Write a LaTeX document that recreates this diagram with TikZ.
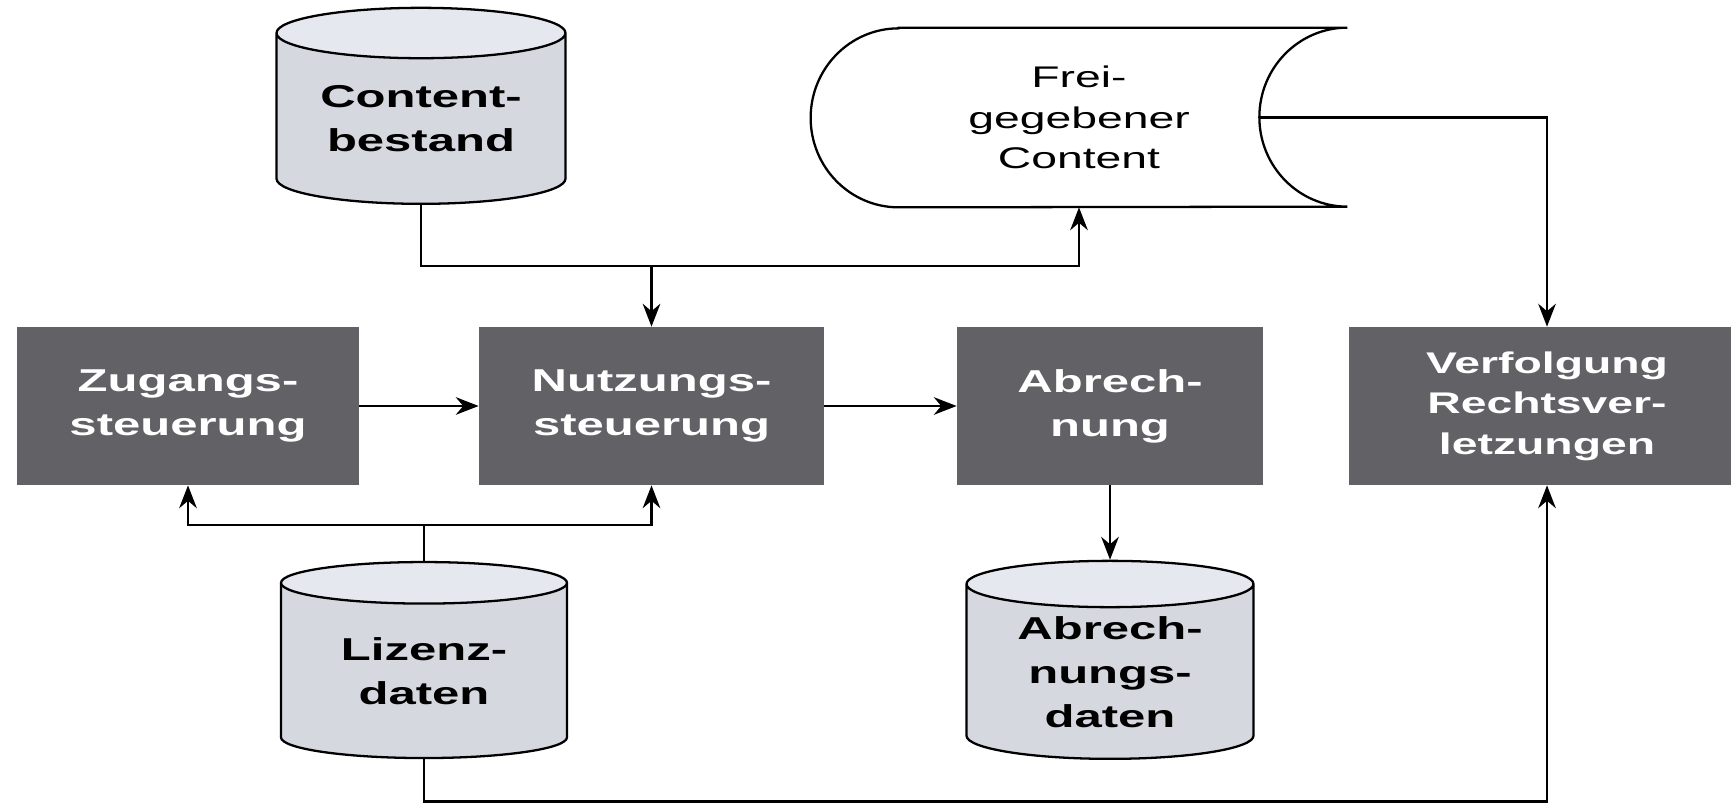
\documentclass[tikz,border=0pt]{standalone}
\usepackage{fontspec}
\newfontfamily\diafont{Liberation Sans}[FakeStretch=1.55]
\usepackage{tikz}
\usetikzlibrary{arrows.meta,calc,shapes.geometric}
\definecolor{procgray}{RGB}{98,98,102}
\definecolor{dbbody}{RGB}{214,216,224}
\definecolor{dbtop}{RGB}{230,232,240}

\begin{document}
\begin{tikzpicture}[
    every node/.style={font=\diafont\bfseries\fontsize{18}{25}\selectfont, align=center},
    proc/.style={fill=procgray, text=white, minimum height=3.16cm, inner sep=0pt},
    db/.style={cylinder, shape border rotate=90, aspect=0.25, draw, line width=1.3pt,
        cylinder uses custom fill, cylinder body fill=dbbody, cylinder end fill=dbtop, inner sep=0pt},
    arr/.style={line width=1.5pt, -{Stealth[length=13pt,width=10pt]}},
    conn/.style={line width=1.5pt},
]
\useasboundingbox (0,0) rectangle (34.62,16.10);

% Datenbestaende
\node[db, minimum width=5.78cm, minimum height=3.92cm] (content) at (8.42,13.72) {Content-\\bestand};
\node[db, minimum width=5.72cm, minimum height=3.92cm] (lizenz) at (8.48,2.68) {Lizenz-\\daten};
\node[db, minimum width=5.74cm, minimum height=3.96cm] (abdaten) at (22.20,2.66) {Abrech-\\nungs-\\daten};

% Prozesse
\node[proc, minimum width=6.84cm] (zugang) at (3.76,7.98) {Zugangs-\\steuerung};
\node[proc, minimum width=6.90cm] (nutzung) at (13.03,7.98) {Nutzungs-\\steuerung};
\node[proc, minimum width=6.12cm] (abrech) at (22.20,7.98) {Abrech-\\nung};
\node[proc, minimum width=7.92cm, font=\diafont\bfseries\fontsize{17}{23}\selectfont] (verfolg) at (30.94,7.98) {Verfolgung\\Rechtsver-\\letzungen};

% Freigegebener Content (Ausgabe)
\node[font=\diafont\fontsize{17}{23}\selectfont, minimum width=10.72cm, minimum height=3.58cm, inner sep=0pt] (frei) at (21.58,13.75) {Frei-\\gegebener\\Content};
\draw[line width=1.3pt] ($(frei.north west)+(1.76,0)$) -- (frei.north east)
    arc[start angle=90, end angle=270, x radius=1.76cm, y radius=1.79cm]
    -- ($(frei.south west)+(1.76,0)$)
    arc[start angle=270, end angle=90, x radius=1.76cm, y radius=1.79cm] -- cycle;
\coordinate (freiout) at ($(frei.east)+(-1.76,0)$);

% Verbindungen
\coordinate (cbus) at ($(content.south)+(0,-1.22)$);
\draw[arr] (content.south) -- (cbus) -| (frei.south);
\draw[arr] (cbus -| nutzung.north) -- (nutzung.north);
\draw[arr] (freiout) -| (verfolg.north);

\draw[arr] (zugang.east) -- (nutzung.west);
\draw[arr] (nutzung.east) -- (abrech.west);
\draw[arr] (abrech.south) -- (abdaten.north);

\coordinate (lbus) at ($(lizenz.north)+(0,0.72)$);
\draw[conn] (lizenz.north) -- (lbus);
\draw[arr] (lbus) -| (zugang.south);
\draw[arr] (lbus) -| (nutzung.south);
\draw[arr] (lizenz.south) -- ++(0,-0.84) -| (verfolg.south);
\end{tikzpicture}
\end{document}
